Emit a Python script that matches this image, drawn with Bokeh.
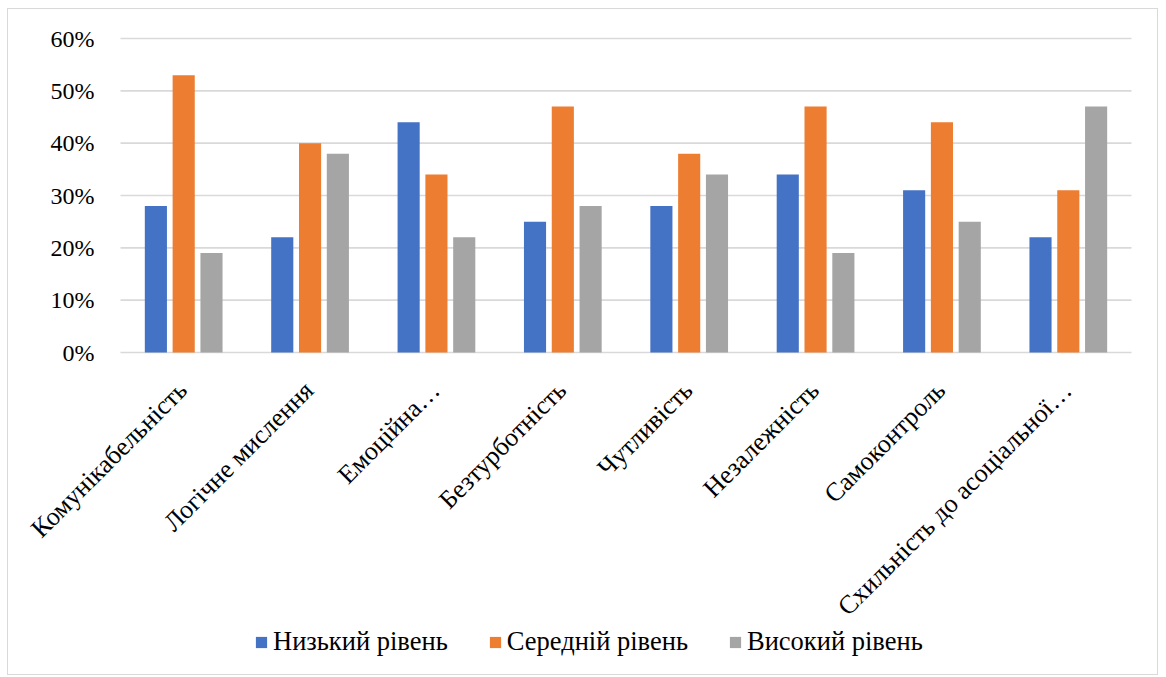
from bokeh.core.properties import value
from bokeh.embed import file_html
from bokeh.models import ColumnDataSource, Range1d, Legend, LegendItem, LabelSet
from bokeh.plotting import figure
from bokeh.resources import INLINE
from math import pi

categories = ["Комунікабельність", "Логічне мислення", "Емоційна…", "Безтурботність",
              "Чутливість", "Незалежність", "Самоконтроль", "Схильність до асоціальної…"]
low = [0.28, 0.22, 0.44, 0.25, 0.28, 0.34, 0.31, 0.22]
mid = [0.53, 0.40, 0.34, 0.47, 0.38, 0.47, 0.44, 0.31]
high = [0.19, 0.38, 0.22, 0.28, 0.34, 0.19, 0.25, 0.47]
series_names = ["Низький рівень", "Середній рівень", "Високий рівень"]
colors = ["#4472C4", "#ED7D31", "#A5A5A5"]
y_ticks = [0, 0.1, 0.2, 0.3, 0.4, 0.5, 0.6]
y_tick_labels = ["0%", "10%", "20%", "30%", "40%", "50%", "60%"]

FONT = "Liberation Serif"
GRID = "#d9d9d9"

n = len(categories)
centers = [i + 0.5 for i in range(n)]

# one category slot = 1 unit on x; the frame covers the whole canvas so the
# slanted category names and the legend can sit under the bars without clipping
W, H = 1151, 667
slot = 1011 / n
x_left = -112 / slot
x_right = n + 28 / slot
ppu = 314 / 0.6
y_top = 0.6 + 29 / ppu
y_bottom = -324 / ppu

p = figure(x_range=Range1d(x_left, x_right), y_range=Range1d(y_bottom, y_top),
           width=W, height=H, output_backend="svg", toolbar_location=None,
           min_border=0)
p.margin = (8, 0, 0, 7)
p.styles = {"border": "1px solid #d9d9d9"}
p.outline_line_color = None
p.background_fill_color = "white"
p.xaxis.visible = False
p.yaxis.visible = False
p.grid.visible = False

# horizontal gridlines at the value ticks
p.segment(x0=[0] * len(y_ticks), x1=[n] * len(y_ticks), y0=y_ticks, y1=y_ticks,
          line_color=GRID, line_width=1.6)

offset = 0.22
bw = 0.175
renderers = []
for vals, off, c in zip([low, mid, high], [-offset, 0, offset], colors):
    r = p.vbar(x=[cx + off for cx in centers], top=vals, width=bw,
               fill_color=c, line_color=None)
    renderers.append(r)

# value axis labels
ysrc = ColumnDataSource(dict(x=[-26 / slot] * len(y_ticks), y=y_ticks, t=y_tick_labels))
p.add_layout(LabelSet(x="x", y="y", text="t", source=ysrc, text_align="right",
                      text_baseline="middle", text_font=value(FONT),
                      text_font_size="24px", text_color="#000000"))

# slanted category names
csrc = ColumnDataSource(dict(x=centers, y=[-0.064] * n, t=categories))
p.add_layout(LabelSet(x="x", y="y", text="t", source=csrc, angle=pi / 4,
                      text_align="right", text_baseline="middle", x_offset=-1,
                      text_font=value(FONT), text_font_size="26px", text_color="#000000"))

legend = Legend(items=[LegendItem(label=s, renderers=[r]) for s, r in zip(series_names, renderers)],
                orientation="horizontal", location=(246, 19),
                label_text_font=FONT, label_text_font_size="26.5px", label_text_color="#000000",
                glyph_width=14, glyph_height=14, label_standoff=5, spacing=40,
                padding=0, margin=0, label_height=20,
                border_line_color=None, background_fill_alpha=0)
p.add_layout(legend, "center")

open("out.html", "w").write(file_html(p, INLINE))
